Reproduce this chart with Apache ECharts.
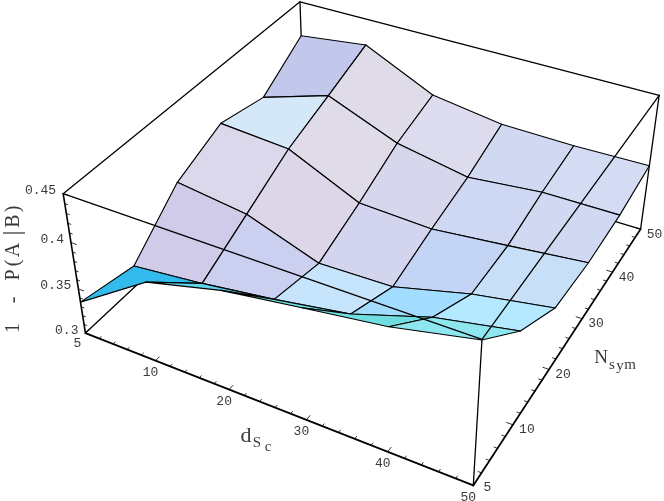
<!DOCTYPE html>
<html><head><meta charset="utf-8">
<script src="https://cdn.jsdelivr.net/npm/echarts@6/dist/echarts.min.js"></script>
<style>html,body{margin:0;padding:0;background:#fff}#c{width:664px;height:501px}</style>
</head><body><div id="c"></div>
<script>
const dScTicks=[5,10,20,30,40,50];
const NsymTicks=[5,10,20,30,40,50];
const zTicks=[0.3,0.35,0.4,0.45];
const z_dSc5 =[0.3353,0.3226,0.3687,0.3908,0.3790,0.4116];
const z_dSc10=[0.3864,0.3314,0.3583,0.3853,0.4028,0.4210];
const z_dSc20=[0.4070,0.3429,0.3300,0.3490,0.3716,0.3849];
const z_dSc30=[0.4192,0.3569,0.3321,0.3457,0.3569,0.3735];
const z_dSc40=[0.4309,0.3838,0.3533,0.3541,0.3650,0.3722];
const z_dSc50=[0.4494,0.4004,0.3679,0.3631,0.3653,0.3736];
const zRows=[z_dSc5,z_dSc10,z_dSc20,z_dSc30,z_dSc40,z_dSc50];
const faceColors=[
['#33bbee','#cfcbe8','#dbd8ec','#d5e8f8','#c2c8ec'],
['#5fd4ea','#cbcff0','#dcd6e8','#e0dbe8','#e0dbe8'],
['#70dde0','#c6e5fc','#d3d5ef','#d6d6ec','#dddcee'],
['#70dde0','#a2dcfe','#c4d4f4','#cfd8f2','#d0d8f2'],
['#8ee6ef','#b4e9ff','#c8dff8','#d0d8f2','#d4dcf4']];
const corners=[
[0,0,0,85.3,333.3],[0,0,5,63.3,193.3],[5,0,0,473.3,485],[5,0,5,482,340],
[5,5,0,640.7,229.3],[5,5,5,659,95],[0,5,5,300,2]];
function solve(A,b){const n=b.length;const M=A.map((r,i)=>r.concat(b[i]));
 for(let i=0;i<n;i++){let p=i;for(let k=i+1;k<n;k++)if(Math.abs(M[k][i])>Math.abs(M[p][i]))p=k;[M[i],M[p]]=[M[p],M[i]];
  for(let k=0;k<n;k++)if(k!==i){const f=M[k][i]/M[i][i];for(let c=i;c<=n;c++)M[k][c]-=f*M[i][c];}}
 return M.map((r,i)=>r[n]/r[i]);}
function calibrate(){const rows=[],rhs=[];
 corners.forEach(([x,y,z,a,b])=>{rows.push([x,y,z,1,0,0,0,0,-a*x,-a*y,-a*z]);rhs.push(a);rows.push([0,0,0,0,x,y,z,1,-b*x,-b*y,-b*z]);rhs.push(b);});
 const N=Array.from({length:11},(_,i)=>Array.from({length:11},(_,j)=>rows.reduce((s,r)=>s+r[i]*r[j],0)));
 const t=Array.from({length:11},(_,i)=>rows.reduce((s,r,k)=>s+r[i]*rhs[k],0));
 return solve(N,t);}
const P=calibrate();
const project=(u,v,w)=>{const d=P[8]*u+P[9]*v+P[10]*w+1;return [(P[0]*u+P[1]*v+P[2]*w+P[3])/d,(P[4]*u+P[5]*v+P[6]*w+P[7])/d];};
const zw=z=>(z-0.3)/0.15*5;
const chart=echarts.init(document.getElementById('c'),null,{renderer:'canvas'});
const line=(api,a,b,w)=>{const p=api.coord(project(...a)),q=api.coord(project(...b));return {type:'line',shape:{x1:p[0],y1:p[1],x2:q[0],y2:q[1]},style:{stroke:'#000',lineWidth:w,lineCap:'round'}};};
const faces=[];for(let j=4;j>=0;j--)for(let i=0;i<5;i++)faces.push([i,j]);
const V=(i,j)=>[i,j,zw(zRows[i][j])];
const backEdges=[[[0,5,5],[0,0,5],1.3],[[0,5,5],[5,5,5],1.3],[[0,5,5],[0,5,0],1.3],[[0,0,0],[0,5,0],1.3],[[5,5,0],[0,5,0],1.3]];
const frontEdges=[[[0,0,5],[5,0,5],1.3],[[5,0,5],[5,5,5],1.3],[[0,0,0],[0,0,5],1.6],[[5,0,0],[5,0,5],1.3],[[5,5,0],[5,5,5],1.3],[[0,0,0],[5,0,0],1.8],[[5,0,0],[5,5,0],1.8]];
const ticks=[];
for(let k=0;k<=25;k++){const m=k%5===0?1:0;const t=k/5;
 ticks.push([[t,0,0],[t,m?0.075:0.04,0],0.8]);
 ticks.push([[5,t,0],[5-(m?0.075:0.04),t,0],0.8]);}
for(let k=0;k<=15;k++){const m=k%5===0?1:0;const w=k/3;ticks.push([[0,0,w],[m?0.075:0.04,0,w],0.8]);}
const MONO='"Liberation Mono"',SERIF='"Liberation Serif"';
const labelColor='#3a3a3a';
const labels=[];
dScTicks.forEach((s,i)=>labels.push([String(s),project(i,0,0),i?-5:-8,i?12:10,13,'center',MONO]));
NsymTicks.forEach((s,i)=>labels.push([String(s),project(5,i,0),14,i?5:2,13,'center',MONO]));
zTicks.forEach((s,i)=>labels.push([String(s),project(0,0,i*5/3),-7,-3,13,'right',MONO]));
labels.push(['d',[246,436],0,0,22,'center',SERIF],['S',[257,443],0,0,15,'center',SERIF],['c',[268,447],0,0,15,'center',SERIF]);
labels.push(['N',[601,358],0,0,19,'center',SERIF],['s',[612,365],0,0,15,'center',SERIF],['y',[620,366],0,0,15,'center',SERIF],['m',[630,365],0,0,15,'center',SERIF]);
[['1',328,20],['-',300,20],['P',275,20],['(',263,20],['A',250,20],['|',233,25],['B',221,20],[')',209,20]].forEach(c=>labels.push([c[0],[13.5,c[1]],0,0,c[2],'center',SERIF,Math.PI/2]));
chart.setOption({animation:false,
 grid:{left:0,right:0,top:0,bottom:0},
 xAxis:{type:'value',min:0,max:664,show:false},
 yAxis:{type:'value',min:0,max:501,inverse:true,show:false},
 series:[
 {type:'custom',coordinateSystem:'cartesian2d',silent:true,clip:false,data:backEdges.map((e,k)=>[k]),z:1,renderItem:(p,api)=>{const e=backEdges[p.dataIndex];return line(api,e[0],e[1],e[2]);}},
 {type:'custom',coordinateSystem:'cartesian2d',silent:true,clip:false,data:faces,z:2,renderItem:(p,api)=>{const [i,j]=faces[p.dataIndex];
   const pts=[V(i,j),V(i+1,j),V(i+1,j+1),V(i,j+1)].map(a=>api.coord(project(...a)));
   return {type:'polygon',shape:{points:pts},style:{fill:faceColors[i][j],stroke:'#000',lineWidth:1.15,lineJoin:'round'}};}},
 {type:'custom',coordinateSystem:'cartesian2d',silent:true,clip:false,data:frontEdges.map((e,k)=>[k]),z:3,renderItem:(p,api)=>{const e=frontEdges[p.dataIndex];return line(api,e[0],e[1],e[2]);}},
 {type:'custom',coordinateSystem:'cartesian2d',silent:true,clip:false,data:ticks.map((e,k)=>[k]),z:3,renderItem:(p,api)=>{const e=ticks[p.dataIndex];return line(api,e[0],e[1],e[2]);}},
 {type:'custom',coordinateSystem:'cartesian2d',silent:true,clip:false,data:labels.map((e,k)=>[k]),z:4,renderItem:(p,api)=>{const l=labels[p.dataIndex];const q=api.coord(l[1]);
   return {type:'text',x:q[0]+l[2],y:q[1]+l[3],rotation:l[7]||0,style:{text:l[0],x:0,y:0,fill:labelColor,font:l[4]+'px '+l[6],align:l[5],verticalAlign:'middle'}};}}
 ]});
</script></body></html>
